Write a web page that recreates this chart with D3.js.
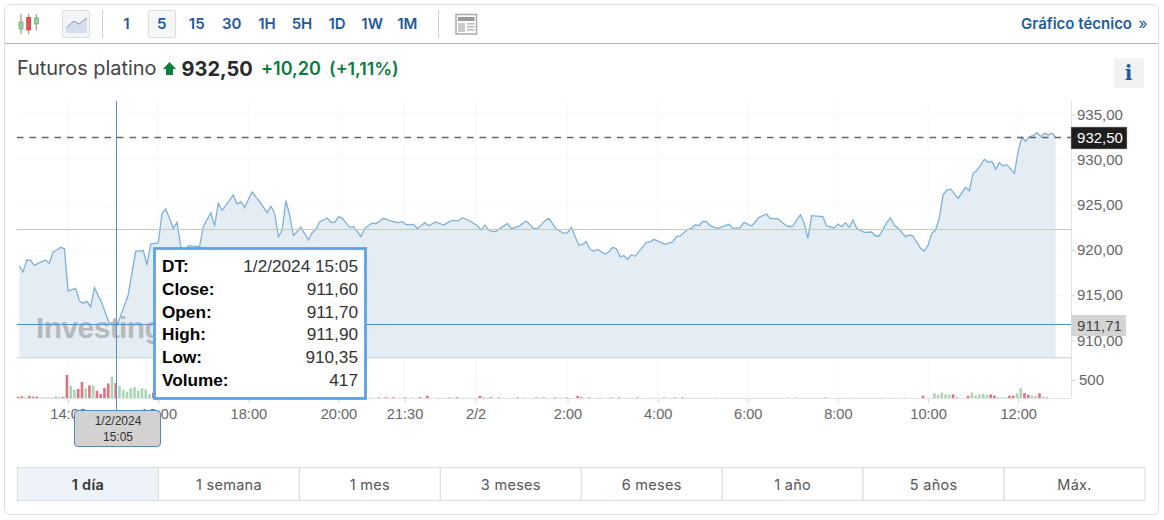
<!DOCTYPE html>
<html>
<head>
    <meta charset="utf-8">
    <script src="https://d3js.org/d3.v7.min.js"></script>
    <style>
        html, body { margin: 0; padding: 0; background: #fff; overflow: hidden; }
        svg { display: block; }
        text { font-family: "Liberation Sans", Arial, sans-serif; }
        .ui { font-family: Inter, "Noto Sans", sans-serif; }
        .axis path { display: none; }
        .axis line { stroke: #d8d8d8; }
        .axis text { font-family: "Liberation Sans", Arial, sans-serif; fill: #666; }
    </style>
</head>
<body>
    <svg width="1164" height="520"></svg>
    <script>
        // bar number (5 minute bars, session gap removed) and close price
        const barIdx = [0,1,2,3,4,5,7,8,9,10,11,12,13,15,16,17,18,19,20,22,24,26,29,31,33,34,35,37,38,39,40,41,42,43,44,45,48,49,51,52,53,54,57,58,59,60,62,64,66,67,68,69,70,71,72,73,75,77,78,79,80,82,83,84,85,86,88,89,91,92,94,95,97,99,101,102,103,105,106,108,109,111,113,115,117,118,120,122,123,124,125,126,127,130,131,133,135,137,138,140,141,143,145,146,147,149,150,151,152,153,154,156,157,158,159,160,161,162,163,164,167,168,169,172,174,175,176,178,179,180,181,182,183,184,186,189,190,192,193,195,197,199,200,202,204,205,206,208,209,210,211,214,215,217,218,219,220,221,222,223,225,227,228,229,231,232,233,234,236,237,238,240,241,242,243,244,245,246,247,248,250,252,253,254,255,257,258,259,260,261,262,263,265,266,267,268,269,270,271,272,273,274,275,276];
        const closes = [918.23,917.56,918.89,918.86,918.30,918.52,918.89,918.52,919.78,920.00,920.30,920.15,915.46,915.75,914.39,914.09,914.32,913.69,915.83,914.09,911.80,911.60,915.02,919.85,919.96,918.34,920.66,920.78,924.06,924.54,923.51,922.40,923.06,920.37,919.60,920.48,920.37,922.58,924.13,922.66,925.17,924.36,926.09,925.09,925.32,924.72,926.42,925.35,924.13,924.84,924.06,921.48,922.21,925.46,923.88,921.59,922.51,921.11,921.92,922.29,923.10,923.54,923.06,923.06,923.69,923.51,922.51,922.58,921.50,922.40,923.00,922.90,923.51,923.21,923.03,923.14,922.81,922.84,922.36,923.03,922.69,923.10,922.77,923.25,923.25,923.58,923.21,922.69,922.21,922.77,922.21,922.03,922.10,922.95,922.36,922.62,923.21,922.36,922.36,923.25,923.51,922.33,921.85,921.92,922.51,920.52,920.63,920.92,920.07,919.89,920.07,919.56,919.78,920.30,920.15,919.26,919.37,918.97,919.48,919.30,920.85,920.89,921.18,920.63,920.89,921.48,921.55,922.29,922.40,922.81,922.69,923.17,923.14,922.66,922.40,922.84,922.40,922.47,923.06,922.66,923.62,923.99,923.47,923.47,922.77,922.58,922.66,923.91,923.03,921.29,923.80,923.69,922.66,922.44,922.88,922.58,923.03,922.51,923.32,922.40,921.96,921.99,921.55,921.55,923.03,923.54,922.77,922.44,921.48,921.66,921.55,920.18,919.89,920.52,921.85,922.21,923.51,926.09,926.64,926.76,925.72,926.94,926.57,928.49,928.79,930.04,929.71,929.82,928.93,929.67,929.30,929.45,928.49,930.90,932.48,932.03,932.55,932.66,932.99,932.55,932.92,932.74,932.96,932.50];

        const volBars = [0,1,2,3,4,5,6,7,8,9,10,11,12,13,14,15,16,17,18,19,20,21,22,23,24,25,26,27,28,29,30,31,32,33,34,35,36,73,92,94,96,98,100,103,105,107,109,112,115,117,120,123,124,126,128,133,135,138,140,143,146,149,150,152,155,158,160,165,168,172,175,177,186,205,207,215,222,230,236,241,244,245,246,247,248,249,250,253,254,255,256,257,258,259,260,261,262,263,264,265,266,267,268,269,270,271,272,273,274];
        const volValues = [30,45,20,60,35,40,15,15,20,15,45,25,30,640,340,220,250,445,270,350,340,200,110,280,405,590,417,340,220,175,270,300,200,270,240,110,150,180,15,10,15,20,20,15,12,20,65,10,15,20,10,60,15,20,15,15,10,15,15,15,15,60,20,15,10,15,15,15,10,12,15,15,10,15,15,12,10,10,10,65,130,85,155,100,90,100,35,65,155,70,100,120,90,100,70,20,20,20,65,65,130,270,140,90,70,60,130,35,30];
        const volDown = [1,1,0,1,1,1,0,0,0,0,0,0,1,1,0,0,1,1,0,1,0,1,1,1,1,0,1,0,0,0,0,0,0,0,0,0,1,1,1,0,1,1,1,1,0,1,1,0,1,1,0,1,1,1,1,1,0,1,1,1,1,1,1,1,0,1,1,1,0,1,1,1,0,0,0,1,0,0,0,1,0,0,0,0,0,1,0,1,0,0,0,0,0,1,1,0,0,0,1,1,0,0,1,1,0,0,1,0,0];

        const priceTicks = [910,915,920,925,930,935];
        const timeBars = [13,37,61,85,102.6,121.5,146,170,194,218,242,266];
        const timeLabels = ['14:00','16:00','18:00','20:00','21:30','2/2','2:00','4:00','6:00','8:00','10:00','12:00'];
        const lastPrice = 932.5;
        const prevClose = 922.3;
        const crossBar = 26;
        const crossPrice = 911.71;

        const intervals = ['1','5','15','30','1H','5H','1D','1W','1M'];
        const ranges = ['1 día','1 semana','1 mes','3 meses','6 meses','1 año','5 años','Máx.'];
        const tipLabels = ['DT:','Close:','Open:','High:','Low:','Volume:'];
        const tipValues = ['1/2/2024 15:05','911,60','911,70','911,90','910,35','417'];

        const comma = v => d3.format('.2f')(v).replace('.', ',');
        const blue = '#1f5a9e', green = '#0a7d3f';
        const svg = d3.select('svg');

        const x = d3.scaleLinear().domain([0, 276]).range([19.3, 1055.7]);
        const y = d3.scaleLinear().domain([910, 935]).range([340.3, 114.55]);
        const yVol = d3.scaleLinear().domain([0, 500]).range([398, 380]);

        const series = barIdx.map((b, i) => ({ bar: b, close: closes[i] }));
        const vols = volBars.map((b, i) => ({ bar: b, vol: volValues[i], down: volDown[i] }));

        // frame
        svg.append('rect').attr('x', 4.5).attr('y', 4.5).attr('width', 1154).attr('height', 510).attr('rx', 5)
            .attr('fill', '#fff').attr('stroke', '#dedede');
        svg.append('line').attr('x1', 5).attr('x2', 1158).attr('y1', 43.5).attr('y2', 43.5).attr('stroke', '#b4b4b4');

        // toolbar
        const candle = svg.append('g');
        [[21, 14, 34, 22, 29, '#9bd09b', '#5a9a5a'], [28.7, 14, 34, 17.5, 30, '#e8504f', '#a33'], [36.3, 14, 30, 18, 24, '#9bd09b', '#5a9a5a']]
            .forEach(c => {
                candle.append('line').attr('x1', c[0]).attr('x2', c[0]).attr('y1', c[1]).attr('y2', c[2]).attr('stroke', '#8a8a6a');
                candle.append('rect').attr('x', c[0] - 2).attr('y', c[3]).attr('width', 4).attr('height', c[4] - c[3])
                    .attr('fill', c[5]).attr('stroke', c[6]).attr('stroke-width', 0.6);
            });
        svg.append('rect').attr('x', 62.5).attr('y', 10.5).attr('width', 27).attr('height', 27).attr('rx', 2)
            .attr('fill', '#f3f5f8').attr('stroke', '#dcdcdc');
        svg.append('path').attr('d', 'M66 28L74 21L79 24L87 18V33H66Z').attr('fill', '#d5dfec');
        svg.append('path').attr('d', 'M66 28L74 21L79 24L87 18').attr('fill', 'none').attr('stroke', '#7f97bd');
        svg.append('line').attr('x1', 102.5).attr('x2', 102.5).attr('y1', 10).attr('y2', 38).attr('stroke', '#ccc');
        svg.append('line').attr('x1', 438.5).attr('x2', 438.5).attr('y1', 10).attr('y2', 38).attr('stroke', '#ccc');
        svg.append('rect').attr('x', 148.5).attr('y', 10.5).attr('width', 27).attr('height', 27).attr('rx', 2)
            .attr('fill', '#f5f6f8').attr('stroke', '#dcdcdc');
        svg.selectAll('.interval').data(intervals).enter().append('text')
            .attr('class', 'interval ui')
            .attr('x', (d, i) => 126.5 + i * 35.1).attr('y', 29)
            .attr('text-anchor', 'middle').attr('font-size', 15).attr('font-weight', 600)
            .attr('fill', blue).text(d => d);
        svg.append('rect').attr('x', 456).attr('y', 14.5).attr('width', 20.5).attr('height', 19.5).attr('fill', '#fff').attr('stroke', '#aaa').attr('stroke-width', 1.5);
        svg.append('rect').attr('x', 458).attr('y', 17).attr('width', 16.5).attr('height', 4).attr('fill', '#999');
        svg.append('rect').attr('x', 458).attr('y', 23).attr('width', 7).attr('height', 9).attr('fill', '#ccc');
        svg.append('g').selectAll('rect').data([23, 26, 29]).enter().append('rect')
            .attr('x', 467).attr('y', d => d).attr('width', 7.5).attr('height', 1.6).attr('fill', '#bbb');
        svg.append('text').attr('class', 'ui').attr('x', 1132).attr('y', 29).attr('text-anchor', 'end')
            .attr('font-size', 15).attr('font-weight', 600).attr('fill', blue).text('Gráfico técnico');
        svg.append('text').attr('class', 'ui').attr('x', 1143).attr('y', 29).attr('text-anchor', 'middle')
            .attr('font-size', 16).attr('fill', blue).text('»');

        // header
        svg.append('text').attr('class', 'ui').attr('x', 17).attr('y', 75).attr('font-size', 19.9).attr('fill', '#444').text('Futuros platino');
        svg.append('path').attr('d', 'M169.5 62L176 69H173V75H166V69H163Z').attr('fill', green);
        svg.append('text').attr('class', 'ui').attr('x', 181.5).attr('y', 76).attr('font-size', 20).attr('font-weight', 700).attr('fill', '#2a2a2a').text('932,50');
        svg.append('text').attr('class', 'ui').attr('x', 261).attr('y', 74.5).attr('font-size', 18).attr('font-weight', 600).attr('fill', green).text('+10,20');
        svg.append('text').attr('class', 'ui').attr('x', 329).attr('y', 74.5).attr('font-size', 17.8).attr('font-weight', 600).attr('fill', green).text('(+1,11%)');
        svg.append('rect').attr('x', 1114).attr('y', 58).attr('width', 30).attr('height', 30).attr('fill', '#f2f2f2');
        svg.append('text').attr('x', 1128.5).attr('y', 80).attr('text-anchor', 'middle')
            .style('font-family', '"DejaVu Serif", serif').attr('font-size', 20).attr('font-weight', 700).attr('fill', blue).text('i');

        // faint grid
        svg.append('g').selectAll('line').data(timeBars).enter().append('line')
            .attr('x1', d => x(d)).attr('x2', d => x(d)).attr('y1', 101).attr('y2', 398).attr('stroke', '#f8f8f8');
        svg.append('g').selectAll('line').data(priceTicks).enter().append('line')
            .attr('x1', 18).attr('x2', 1070).attr('y1', d => y(d)).attr('y2', d => y(d)).attr('stroke', '#f8f8f8');

        // price area
        const area = d3.area().x(d => x(d.bar)).y0(358).y1(d => y(d.close));
        const line = d3.line().x(d => x(d.bar)).y(d => y(d.close));
        svg.append('path').datum(series).attr('d', area).attr('fill', '#e4edf4');

        svg.append('text').attr('x', 36).attr('y', 338).attr('font-size', 30).attr('font-weight', 700)
            .attr('letter-spacing', -0.6).attr('fill', '#b6babd').text('Investing');

        svg.append('path').datum(series).attr('d', line).attr('fill', 'none').attr('stroke', '#7fb0d9').attr('stroke-width', 1.3);

        svg.append('rect').attr('x', 17).attr('y', 357).attr('width', 1054).attr('height', 1.5).attr('fill', '#d9dcdf');
        svg.append('line').attr('x1', 17).attr('x2', 1071).attr('y1', Math.round(y(prevClose)) + 0.5).attr('y2', Math.round(y(prevClose)) + 0.5).attr('stroke', '#f3b4bb');
        svg.append('line').attr('x1', 17).attr('x2', 1071).attr('y1', Math.round(y(lastPrice)) + 0.5).attr('y2', Math.round(y(lastPrice)) + 0.5)
            .attr('stroke', '#666').attr('stroke-width', 1.5).attr('stroke-dasharray', '6.5,6');

        // volume
        svg.append('line').attr('x1', 17).attr('x2', 1071).attr('y1', 398.5).attr('y2', 398.5).attr('stroke', '#e2e2e2');
        svg.append('g').selectAll('rect').data(vols).enter().append('rect')
            .attr('x', d => x(d.bar) - 2.5).attr('width', 2.6)
            .attr('y', d => yVol(d.vol)).attr('height', d => yVol(0) - yVol(d.vol))
            .attr('fill', d => d.down ? '#e0737f' : '#a9d6b4');

        // axes
        svg.append('line').attr('x1', 1071.5).attr('x2', 1071.5).attr('y1', 101).attr('y2', 398).attr('stroke', '#e2e2e2');
        svg.append('g').attr('class', 'axis').attr('transform', 'translate(1071,0)')
            .call(d3.axisRight(y).tickValues(priceTicks).tickFormat(comma).tickSize(4).tickPadding(2))
            .selectAll('text').attr('font-size', 15);
        svg.append('g').attr('class', 'axis').attr('transform', 'translate(1071,0)')
            .call(d3.axisRight(yVol).tickValues([500]).tickSize(4).tickPadding(4))
            .selectAll('text').attr('font-size', 15);
        svg.append('g').attr('class', 'axis').attr('transform', 'translate(0,398)')
            .call(d3.axisBottom(x).tickValues(timeBars).tickFormat((d, i) => timeLabels[i]).tickSize(5).tickPadding(6))
            .selectAll('text').attr('font-size', 14.6);

        // crosshair
        const crossX = Math.round(x(crossBar)) - 0.5, crossY = Math.round(y(crossPrice)) - 0.5;
        svg.append('line').attr('x1', crossX).attr('x2', crossX).attr('y1', 101).attr('y2', 410).attr('stroke', '#5a8fc6');
        svg.append('line').attr('x1', 17).attr('x2', 1071).attr('y1', crossY).attr('y2', crossY).attr('stroke', '#5a8fc6');

        // price tags
        svg.append('rect').attr('x', 1071).attr('y', 127).attr('width', 56).attr('height', 22).attr('fill', '#1e1e1e').attr('stroke', '#bbb').attr('stroke-width', 0.5);
        svg.append('text').attr('x', 1100).attr('y', 143).attr('text-anchor', 'middle').attr('font-size', 15).attr('fill', '#fff').text(comma(lastPrice));
        svg.append('rect').attr('x', 1071).attr('y', 315).attr('width', 55).attr('height', 21).attr('fill', '#d4d4d4');
        svg.append('text').attr('x', 1099.5).attr('y', 330.5).attr('text-anchor', 'middle').attr('font-size', 15).attr('fill', '#444').text(comma(crossPrice));

        // tooltip
        svg.append('rect').attr('x', 154.5).attr('y', 248.5).attr('width', 211).attr('height', 150)
            .attr('fill', '#fff').attr('fill-opacity', 0.97).attr('stroke', '#5ba3e6').attr('stroke-width', 2.8);
        tipLabels.forEach((t, i) => {
            const ty = 272 + i * 22.8;
            svg.append('text').attr('x', 162).attr('y', ty).attr('font-size', 17.2).attr('font-weight', 700).attr('fill', '#000').text(t);
            svg.append('text').attr('x', 358).attr('y', ty).attr('text-anchor', 'end').attr('font-size', 17.2).attr('fill', '#333').text(tipValues[i]);
        });

        // date tag
        svg.append('rect').attr('x', 74.5).attr('y', 410.5).attr('width', 86).attr('height', 36).attr('rx', 3.5)
            .attr('fill', '#d2d2d2').attr('stroke', '#5a88b5');
        svg.append('text').attr('x', 118).attr('y', 425).attr('text-anchor', 'middle').attr('font-size', 12).attr('fill', '#333').text('1/2/2024');
        svg.append('text').attr('x', 118).attr('y', 441).attr('text-anchor', 'middle').attr('font-size', 12).attr('fill', '#333').text('15:05');

        // range tabs
        const tabW = 1127.5 / ranges.length;
        const tabs = svg.append('g').selectAll('g').data(ranges).enter().append('g')
            .attr('transform', (d, i) => `translate(${17.5 + i * tabW},467.5)`);
        tabs.append('rect').attr('width', tabW).attr('height', 33)
            .attr('fill', (d, i) => i === 0 ? '#edf3f9' : '#fff').attr('stroke', '#dcdcdc');
        tabs.append('text').attr('class', 'ui').attr('x', tabW / 2).attr('y', 22).attr('text-anchor', 'middle')
            .attr('font-size', 14.5).attr('letter-spacing', 0.3)
            .attr('font-weight', (d, i) => i === 0 ? 600 : 400)
            .attr('fill', (d, i) => i === 0 ? '#333' : '#555').text(d => d);
    </script>
</body>
</html>
